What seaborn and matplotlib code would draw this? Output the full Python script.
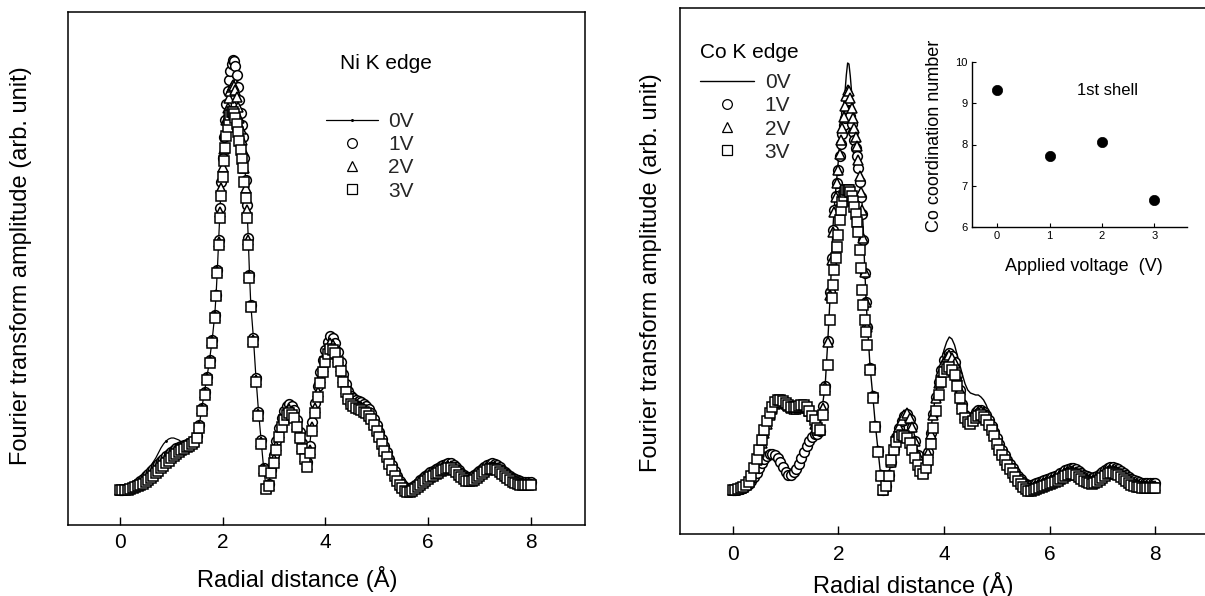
import numpy as np
import matplotlib
matplotlib.use("Agg")
import matplotlib.pyplot as plt
import seaborn as sns

# ---------------- data ----------------
# radial distance grid (Å): 0.05 steps, 0.025 steps on the steep first-shell peak
R_GRID = np.round(np.concatenate([
    np.arange(0.0, 1.851, 0.05),
    np.arange(1.875, 2.551, 0.025),
    np.arange(2.60, 8.001, 0.05),
]), 3)

SERIES_LABELS = ["0V", "1V", "2V", "3V"]

# ---- Ni K edge, FT amplitude (arb. unit) ----
NI_0V = [0, 0, 1, 2, 3, 4, 6, 8, 10, 13, 16, 20, 24, 28, 32, 37, 42, 46, 49, 51,
         52, 52, 51, 50, 48, 47, 47, 47, 48, 51, 55, 66, 83, 99, 114, 131, 151, 176,
         196, 221, 251, 283, 309, 332, 352, 369, 384, 396, 406, 414, 420, 423, 422, 418,
         410, 399, 387, 375, 363, 352, 331, 310, 285, 253, 216, 186,
         153, 113, 79, 50, 22, 2, 6, 21,
         36, 50, 63, 73, 81, 86, 88, 86, 82, 72, 59, 48, 37, 29, 46, 69, 89, 106, 120, 132,
         143, 151, 157, 155, 150, 141, 130, 118, 108, 101, 96, 94, 92, 91, 90, 88, 86, 83, 79, 73,
         67, 60, 52, 45, 39, 32, 26, 20, 15, 10, 7, 4, 2, 2, 3, 5, 7, 10, 12, 14,
         16, 18, 20, 22, 23, 25, 26, 27, 28, 28, 26, 24, 21, 18, 16, 14, 13, 13, 15, 17,
         19, 21, 23, 25, 27, 27, 27, 26, 24, 21, 19, 16, 14, 12, 11, 10, 9, 8, 8, 8, 8]
NI_1V = [0, 0, 1, 1, 2, 3, 5, 7, 9, 11, 14, 16, 19, 21, 24, 26, 29, 31, 34, 36,
         38, 40, 42, 43, 44, 45, 46, 47, 48, 50, 54, 65, 82, 98, 113, 130, 150, 175,
         195, 220, 250, 282, 308, 332, 353, 370, 386, 399, 410, 419, 426, 430, 429, 424,
         415, 403, 390, 377, 365, 353, 332, 310, 285, 252, 215, 185,
         152, 112, 78, 50, 22, 2, 6, 20,
         35, 49, 62, 72, 79, 84, 86, 84, 80, 70, 58, 47, 36, 28, 44, 68, 87, 104, 118, 130,
         140, 148, 154, 152, 147, 138, 128, 116, 106, 99, 94, 92, 90, 89, 88, 86, 84, 81, 77, 71,
         65, 58, 51, 44, 38, 31, 25, 19, 14, 9, 6, 3, 2, 2, 3, 5, 7, 10, 12, 14,
         16, 18, 19, 21, 22, 24, 25, 26, 27, 27, 25, 23, 20, 17, 15, 13, 13, 13, 15, 17,
         19, 21, 23, 25, 26, 27, 26, 25, 23, 20, 18, 16, 14, 12, 11, 10, 9, 8, 8, 8, 8]
NI_2V = [0, 0, 1, 1, 2, 3, 4, 5, 7, 9, 11, 13, 16, 18, 21, 23, 26, 28, 31, 33,
         35, 37, 39, 41, 42, 43, 44, 45, 47, 49, 53, 64, 81, 97, 112, 129, 149, 174,
         195, 219, 248, 278, 302, 323, 341, 356, 370, 382, 392, 399, 403, 405, 404, 400,
         393, 383, 372, 361, 350, 340, 322, 302, 280, 250, 214, 184,
         150, 110, 76, 48, 21, 2, 5, 19,
         31, 44, 57, 67, 74, 79, 81, 79, 75, 65, 54, 43, 33, 25, 40, 63, 82, 98, 112, 123,
         133, 141, 147, 145, 141, 132, 123, 112, 101, 94, 89, 87, 85, 84, 83, 81, 79, 76, 73, 67,
         61, 55, 48, 41, 35, 28, 22, 16, 11, 6, 3, 1, 0, 0, 1, 3, 5, 7, 9, 11,
         13, 15, 16, 18, 19, 21, 22, 23, 24, 24, 22, 20, 17, 15, 13, 11, 11, 11, 12, 14,
         16, 18, 20, 22, 23, 23, 23, 22, 20, 18, 16, 14, 12, 10, 9, 8, 7, 6, 6, 6, 6]
NI_3V = [0, 0, 0, 0, 1, 2, 3, 4, 5, 6, 8, 10, 12, 14, 17, 19, 22, 24, 27, 29,
         32, 34, 36, 38, 40, 41, 43, 44, 46, 48, 52, 62, 79, 95, 110, 127, 147, 172,
         194, 217, 245, 272, 294, 313, 329, 342, 354, 363, 370, 375, 378, 378, 376, 372,
         366, 358, 349, 340, 331, 322, 308, 292, 272, 245, 212, 183,
         148, 108, 74, 46, 19, 1, 4, 17,
         27, 40, 53, 63, 70, 75, 77, 75, 72, 63, 52, 41, 31, 23, 37, 59, 77, 93, 107, 118,
         128, 136, 141, 140, 137, 128, 119, 108, 98, 91, 86, 84, 82, 81, 80, 78, 77, 74, 71, 65,
         59, 53, 46, 39, 33, 26, 20, 14, 9, 5, 2, -1, -2, -2, -1, 1, 3, 5, 7, 9,
         11, 13, 14, 16, 17, 19, 20, 21, 22, 22, 20, 18, 15, 13, 11, 9, 9, 9, 10, 12,
         14, 16, 18, 20, 21, 21, 21, 20, 18, 16, 14, 12, 10, 8, 7, 6, 5, 5, 5, 5, 5]

# ---- Co K edge, FT amplitude (arb. unit) ----
CO_0V = [0, 0, 1, 2, 3, 5, 8, 12, 16, 21, 26, 31, 35, 38, 39, 39, 37, 33, 28, 22,
         16, 14, 15, 19, 24, 29, 35, 41, 47, 51, 55, 58, 57, 60, 85, 105, 150, 200,
         235, 265, 285, 300, 315, 330, 348, 362, 375, 387, 398, 415, 427, 426, 414, 398,
         387, 375, 365, 355, 340, 322, 305, 285, 255, 220, 190, 165,
         123, 95, 65, 40, 15, 0, 4, 15,
         28, 39, 50, 61, 70, 76, 78, 73, 65, 52, 38, 26, 18, 27, 40, 60, 80, 98, 115, 129,
         140, 148, 153, 151, 145, 135, 125, 115, 106, 100, 97, 96, 95, 95, 93, 90, 85, 78, 70, 62,
         55, 48, 42, 37, 32, 28, 24, 20, 16, 12, 9, 7, 6, 6, 7, 8, 9, 10, 11, 12,
         12, 12, 13, 14, 16, 19, 21, 23, 24, 23, 22, 20, 18, 16, 14, 13, 13, 14, 15, 17,
         19, 22, 24, 25, 25, 24, 22, 20, 18, 15, 13, 11, 10, 9, 8, 8, 8, 8, 8, 8, 8]
CO_1V = [0, 0, 1, 1, 2, 4, 6, 9, 13, 17, 22, 27, 31, 34, 36, 36, 35, 32, 28, 23,
         18, 15, 15, 18, 21, 26, 32, 38, 44, 49, 53, 56, 56, 59, 84, 104, 149, 198,
         232, 260, 280, 294, 307, 320, 334, 346, 356, 365, 372, 377, 380, 379, 374, 366,
         358, 350, 342, 334, 322, 308, 293, 276, 250, 217, 188, 163,
         122, 94, 64, 39, 15, 0, 4, 15,
         28, 41, 53, 62, 69, 74, 76, 71, 63, 49, 35, 25, 18, 26, 38, 57, 76, 93, 108, 120,
         130, 135, 137, 134, 128, 115, 100, 86, 75, 71, 70, 73, 78, 80, 80, 78, 75, 70, 64, 58,
         52, 46, 40, 35, 30, 26, 22, 18, 14, 11, 8, 6, 5, 5, 6, 7, 8, 9, 10, 11,
         12, 13, 14, 15, 17, 18, 20, 21, 22, 22, 21, 19, 17, 15, 14, 13, 12, 13, 14, 16,
         18, 20, 22, 23, 23, 22, 21, 19, 17, 15, 13, 11, 10, 9, 8, 7, 7, 7, 7, 7, 7]
CO_2V = [0, 0, 1, 2, 3, 6, 11, 17, 23, 30, 38, 47, 57, 66, 75, 81, 86, 88, 88, 87,
         86, 84, 82, 81, 81, 82, 83, 83, 82, 79, 74, 66, 60, 60, 82, 103, 148, 195,
         230, 258, 278, 293, 307, 320, 336, 350, 362, 373, 384, 394, 400, 399, 392, 382,
         372, 362, 353, 344, 330, 314, 298, 280, 252, 218, 188, 163,
         122, 94, 64, 39, 15, 0, 4, 15,
         28, 42, 54, 63, 70, 75, 77, 72, 63, 49, 35, 25, 17, 25, 37, 56, 75, 92, 107, 119,
         128, 133, 135, 132, 127, 114, 100, 86, 75, 70, 69, 72, 76, 78, 79, 77, 74, 69, 63, 57,
         49, 43, 37, 32, 27, 23, 19, 15, 11, 8, 5, 3, 2, 2, 3, 4, 5, 6, 7, 8,
         9, 10, 11, 12, 14, 15, 17, 18, 19, 19, 18, 16, 14, 12, 11, 10, 9, 10, 11, 13,
         15, 17, 19, 20, 20, 19, 18, 16, 14, 12, 10, 8, 7, 6, 5, 4, 4, 4, 4, 4, 4]
CO_3V = [0, 0, 1, 2, 3, 5, 8, 14, 22, 31, 40, 50, 60, 69, 77, 83, 88, 90, 90, 89,
         87, 85, 83, 83, 83, 84, 85, 85, 83, 79, 74, 70, 62, 60, 75, 100, 125, 170,
         192, 205, 220, 232, 243, 255, 270, 280, 288, 294, 298, 300, 300, 300, 298, 294,
         289, 283, 276, 268, 258, 240, 222, 200, 185, 170, 158, 145,
         120, 92, 63, 38, 14, 0, 4, 14,
         30, 40, 48, 53, 55, 54, 52, 47, 40, 32, 25, 19, 16, 22, 30, 46, 62, 79, 95, 108,
         118, 121, 123, 120, 115, 104, 92, 81, 72, 68, 66, 69, 72, 74, 75, 73, 70, 65, 60, 54,
         46, 40, 35, 30, 25, 21, 17, 13, 9, 6, 3, 1, -1, -1, 0, 1, 2, 3, 4, 5,
         6, 7, 8, 9, 11, 12, 14, 15, 16, 16, 15, 13, 11, 9, 8, 7, 6, 7, 8, 10,
         12, 14, 16, 17, 17, 16, 15, 13, 11, 9, 7, 5, 4, 3, 3, 2, 2, 2, 2, 2, 2]

# inset: first-shell Co coordination number vs applied voltage
VOLTAGE = [0, 1, 2, 3]
CO_CN = [9.33, 7.71, 8.05, 6.66]

X_TICKS = [0, 2, 4, 6, 8]

# ---------------- style ----------------
sns.set_theme(style="white")
FONT = ["Liberation Sans", "DejaVu Sans"]
plt.rcParams["font.family"] = FONT
plt.rcParams["axes.edgecolor"] = "black"
plt.rcParams["axes.linewidth"] = 1.1

W, H = 1205, 596
fig = plt.figure(figsize=(W / 100, H / 100), dpi=100)
fig.patch.set_facecolor("white")

ax1 = fig.add_axes([68 / W, 1 - 525 / H, (585 - 68) / W, (525 - 12) / H])
ax2 = fig.add_axes([680 / W, 1 - 534 / H, (1208 - 680) / W, (534 - 8) / H])

mk = dict(linestyle="none", markerfacecolor="white", markeredgecolor="black",
          markeredgewidth=1.1, color="black")


def draw_panel(ax, data, zero_style):
    styles = [zero_style,
              dict(marker="o", markersize=7, **mk),
              dict(marker="^", markersize=7, **mk),
              dict(marker="s", markersize=6.5, **mk)]
    for lab, vals, st in zip(SERIES_LABELS, data, styles):
        sns.lineplot(x=R_GRID, y=np.asarray(vals, dtype=float), ax=ax,
                     sort=False, estimator=None, label=lab, **st)


draw_panel(ax1, [NI_0V, NI_1V, NI_2V, NI_3V],
           dict(color="black", linewidth=0.9, marker=".", markersize=2.5,
                markevery=6, markeredgecolor="black", markerfacecolor="black"))
draw_panel(ax2, [CO_0V, CO_1V, CO_2V, CO_3V],
           dict(color="black", linewidth=1.0))

ax1.set_xlim(-1.01, 9.06)
ax1.set_ylim(-35, 478)
ax2.set_xlim(-1.0, 9.0)
ax2.set_ylim(-44, 482)
ax2.spines["right"].set_visible(False)

for ax, pad in ((ax1, 6), (ax2, 8)):
    ax.set_xticks(X_TICKS)
    ax.set_xticklabels([str(t) for t in X_TICKS])
    ax.set_yticks([])
    ax.tick_params(axis="x", direction="in", length=6, width=1, labelsize=15,
                   pad=pad, colors="black", bottom=True)
    ax.set_facecolor("white")
    ax.grid(False)
    ax.set_xlabel("Radial distance (Å)", fontsize=17, color="black")
    ax.set_ylabel("Fourier transform amplitude (arb. unit)", fontsize=17, color="black")

ax1.xaxis.set_label_coords(0.443, -0.080)
ax1.yaxis.set_label_coords(-0.070, 0.505)
ax2.xaxis.set_label_coords(0.441, -0.072)
ax2.yaxis.set_label_coords(-0.034, 0.496)

# legends
for ax, anchor, hl in ((ax1, (0.499, 0.805), 2.5), (ax2, (0.038, 0.876), 2.6)):
    handles, labels = ax.get_legend_handles_labels()
    leg = ax.legend(handles, labels, loc="upper left", bbox_to_anchor=anchor,
                    frameon=False, fontsize=15, handlelength=hl, handletextpad=0.5,
                    labelspacing=0.2, borderpad=0, borderaxespad=0, numpoints=1)
    for h in leg.legend_handles:
        if hasattr(h, "set_markeredgewidth"):
            h.set_markeredgewidth(0.9)

ax1.text(0.526, 0.900, "Ni K edge", transform=ax1.transAxes, fontsize=15,
         ha="left", va="center", color="black")
ax2.text(0.038, 0.916, "Co K edge", transform=ax2.transAxes, fontsize=15,
         ha="left", va="center", color="black")

# inset
ax3 = fig.add_axes([972 / W, 1 - 227 / H, (1187 - 972) / W, (227 - 62) / H])
ax3.set_facecolor("none")
sns.scatterplot(x=VOLTAGE, y=CO_CN, ax=ax3, color="black", s=55,
                marker="o", edgecolor="black", linewidth=0.5)
ax3.set_xlim(-0.48, 3.62)
ax3.set_ylim(6, 10)
ax3.set_xticks([0, 1, 2, 3])
ax3.set_yticks([6, 7, 8, 9, 10])
ax3.tick_params(direction="in", length=3, width=0.8, labelsize=8, pad=3,
                colors="black", left=True, bottom=True)
for s in ("top", "right"):
    ax3.spines[s].set_visible(False)
for s in ("left", "bottom"):
    ax3.spines[s].set_linewidth(1.0)
ax3.grid(False)
ax3.set_xlabel("Applied voltage  (V)", fontsize=13, color="black")
ax3.set_ylabel("Co coordination number", fontsize=13, color="black")
ax3.xaxis.set_label_coords(0.52, -0.19)
ax3.yaxis.set_label_coords(-0.135, 0.55)
ax3.text(0.488, 0.83, "1st shell", transform=ax3.transAxes, fontsize=12,
         ha="left", va="center", color="black")

fig.savefig("out.png", dpi=100, facecolor="white")
